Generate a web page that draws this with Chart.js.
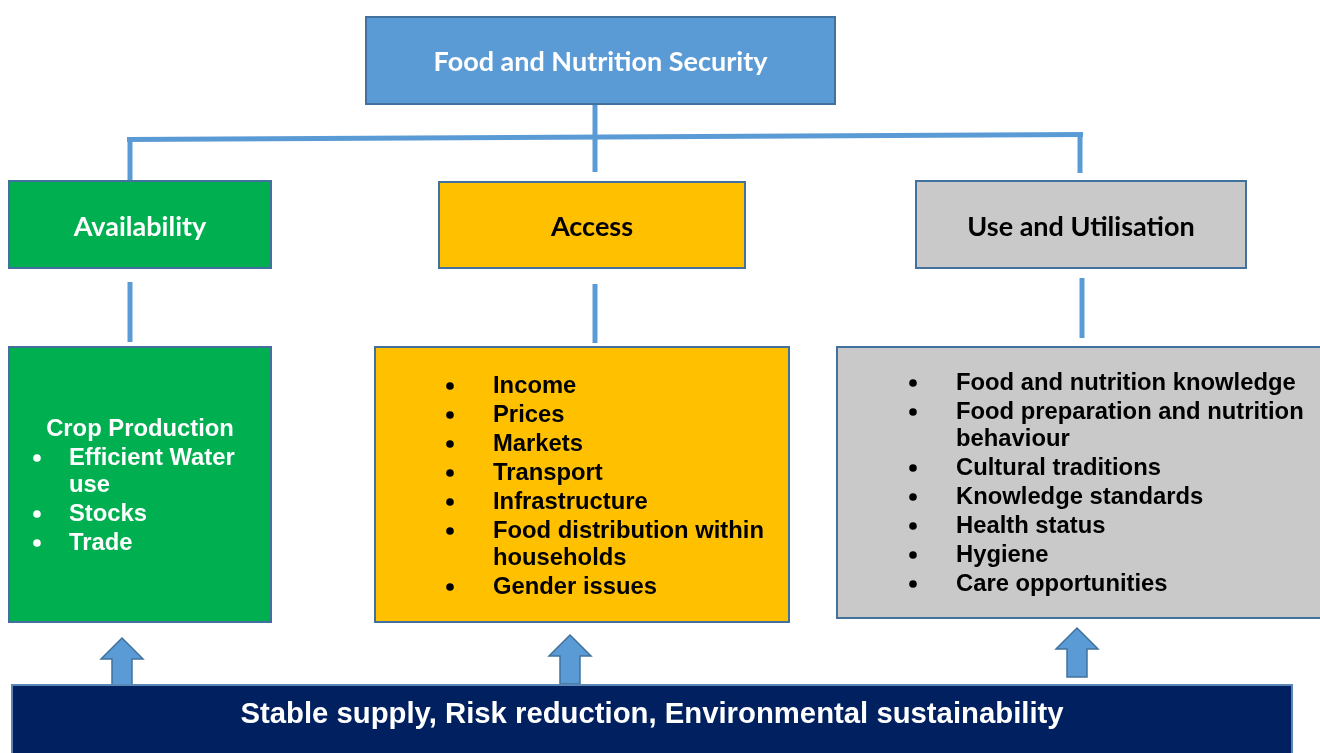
<!DOCTYPE html>
<html>
<head>
<meta charset="utf-8">
<script src="https://cdn.jsdelivr.net/npm/chart.js@4/dist/chart.umd.min.js"></script>
<style>
  html, body { margin: 0; padding: 0; background: #ffffff; }
  #quadro { width: 1320px; height: 753px; }
</style>
</head>
<body>
<div id="quadro"><canvas id="graficoSeguranca" width="1320" height="753"></canvas></div>
<script>
// Textos do diagrama (dados)
const titulo = 'Food and Nutrition Security';
const pilares = ['Availability', 'Access', 'Use and Utilisation'];
const subtituloDisponibilidade = 'Crop Production';
const itensDisponibilidade = ['Efficient Water use', 'Stocks', 'Trade'];
const itensAcesso = ['Income', 'Prices', 'Markets', 'Transport', 'Infrastructure',
    'Food distribution within households', 'Gender issues'];
const itensUtilizacao = ['Food and nutrition knowledge', 'Food preparation and nutrition behaviour',
    'Cultural traditions', 'Knowledge standards', 'Health status', 'Hygiene', 'Care opportunities'];
const base = 'Stable supply, Risk reduction, Environmental sustainability';

// Posições em coordenadas do eixo (x: 0-1320, y: 0-753 de cima para baixo)
const posTopo = { x0: 366, y0: 17, x1: 835, y1: 104 };
const posPilares = [
    { x0: 9, y0: 181, x1: 271, y1: 268 },
    { x0: 439, y0: 182, x1: 745, y1: 268 },
    { x0: 916, y0: 181, x1: 1246, y1: 268 }
];
const posDetalhes = [
    { x0: 9, y0: 347, x1: 271, y1: 622 },
    { x0: 375, y0: 347, x1: 789, y1: 622 },
    { x0: 837, y0: 347, x1: 1324, y1: 618 }
];
const posBase = { x0: 12, y0: 685, x1: 1292, y1: 760 };
const listas = [
    { bala: 37, texto: 69, y: 458, largura: 195 },
    { bala: 450, texto: 493, y: 386, largura: 290 },
    { bala: 913, texto: 956, y: 383, largura: 360 }
];
const ligacoes = [
    [[595, 104], [595, 172]],
    [[127, 139.5], [1083, 134.5]],
    [[130, 139], [130, 180]],
    [[1080, 134], [1080, 173]],
    [[130, 282], [130, 342]],
    [[595, 284], [595, 343]],
    [[1082, 278], [1082, 338]]
];
const setas = [
    { cx: 122, topo: 638, cabeca: 659, fundo: 686 },
    { cx: 570, topo: 635, cabeca: 656, fundo: 684 },
    { cx: 1077, topo: 628, cabeca: 649, fundo: 677 }
];

const coresPilares = ['#00B050', '#FFC000', '#C9C9C9'];
const coresTexto = ['#ffffff', '#000000', '#000000'];
const fonteTitulo = 'bold 27px Lato, "Open Sans", sans-serif';
const fonteLista = 'bold 23.8px "Liberation Sans", Arial, sans-serif';

// Plugin que desenha as caixas, linhas e setas usando as escalas do gráfico
const desenhoDiagrama = {
    id: 'desenhoDiagrama',
    afterDraw(chart) {
        const ctx = chart.ctx;
        const sx = chart.scales.x;
        const sy = chart.scales.y;
        const px = v => sx.getPixelForValue(v);
        const py = v => sy.getPixelForValue(v);

        function caixa(p, cor, borda) {
            ctx.save();
            ctx.fillStyle = cor;
            ctx.fillRect(px(p.x0), py(p.y0), px(p.x1) - px(p.x0), py(p.y1) - py(p.y0));
            ctx.strokeStyle = borda || '#41719C';
            ctx.lineWidth = 2;
            ctx.strokeRect(px(p.x0), py(p.y0), px(p.x1) - px(p.x0), py(p.y1) - py(p.y0));
            ctx.restore();
        }

        function texto(t, x, y, fonte, cor, alinhar) {
            ctx.save();
            ctx.font = fonte;
            ctx.fillStyle = cor;
            ctx.textAlign = alinhar || 'center';
            ctx.textBaseline = 'middle';
            ctx.fillText(t, px(x), py(y));
            ctx.restore();
        }

        // marcador redondo da lista
        function bala(x, y, cor) {
            ctx.save();
            ctx.fillStyle = cor;
            ctx.beginPath();
            ctx.arc(px(x), py(y), 3.8, 0, Math.PI * 2);
            ctx.fill();
            ctx.restore();
        }

        // quebra de linha simples por largura
        function quebrar(t, largura) {
            ctx.save();
            ctx.font = fonteLista;
            const palavras = t.split(' ');
            const linhas = [];
            let atual = '';
            palavras.forEach(p => {
                const teste = atual ? atual + ' ' + p : p;
                if (ctx.measureText(teste).width > largura && atual) {
                    linhas.push(atual);
                    atual = p;
                } else {
                    atual = teste;
                }
            });
            linhas.push(atual);
            ctx.restore();
            return linhas;
        }

        function lista(itens, cfg, cor) {
            let y = cfg.y;
            itens.forEach(item => {
                bala(cfg.bala, y, cor);
                const linhas = quebrar(item, cfg.largura);
                linhas.forEach((l, i) => {
                    if (i > 0) y += 27;
                    texto(l, cfg.texto, y, fonteLista, cor, 'left');
                });
                y += 29;
            });
        }

        // linhas de ligação
        ctx.save();
        ctx.strokeStyle = '#5B9BD5';
        ctx.lineWidth = 5;
        ctx.lineCap = 'butt';
        ligacoes.forEach(l => {
            ctx.beginPath();
            ctx.moveTo(px(l[0][0]), py(l[0][1]));
            ctx.lineTo(px(l[1][0]), py(l[1][1]));
            ctx.stroke();
        });
        ctx.restore();

        // caixa do topo
        caixa(posTopo, '#5B9BD5');
        texto(titulo, (posTopo.x0 + posTopo.x1) / 2, 62, fonteTitulo, '#ffffff');

        // pilares
        pilares.forEach((nome, i) => {
            const p = posPilares[i];
            caixa(p, coresPilares[i]);
            texto(nome, (p.x0 + p.x1) / 2, 227, fonteTitulo, coresTexto[i]);
        });

        // caixas de detalhe
        posDetalhes.forEach((p, i) => caixa(p, coresPilares[i]));
        texto(subtituloDisponibilidade, 140, 429, fonteLista, '#ffffff');
        lista(itensDisponibilidade, listas[0], '#ffffff');
        lista(itensAcesso, listas[1], '#000000');
        lista(itensUtilizacao, listas[2], '#000000');

        // setas para cima
        ctx.save();
        ctx.fillStyle = '#5B9BD5';
        ctx.strokeStyle = '#41719C';
        ctx.lineWidth = 1.5;
        setas.forEach(s => {
            ctx.beginPath();
            ctx.moveTo(px(s.cx), py(s.topo));
            ctx.lineTo(px(s.cx + 21), py(s.cabeca));
            ctx.lineTo(px(s.cx + 10), py(s.cabeca));
            ctx.lineTo(px(s.cx + 10), py(s.fundo));
            ctx.lineTo(px(s.cx - 10), py(s.fundo));
            ctx.lineTo(px(s.cx - 10), py(s.cabeca));
            ctx.lineTo(px(s.cx - 21), py(s.cabeca));
            ctx.closePath();
            ctx.fill();
            ctx.stroke();
        });
        ctx.restore();

        // faixa da base
        caixa(posBase, '#002060', '#5B86B8');
        texto(base, 652, 715, 'bold 29.3px "Liberation Sans", Arial, sans-serif', '#ffffff');
    }
};

document.addEventListener('DOMContentLoaded', function () {
    const ctx = document.getElementById('graficoSeguranca').getContext('2d');
    new Chart(ctx, {
        type: 'scatter',
        data: { datasets: [] },
        options: {
            responsive: false,
            animation: false,
            devicePixelRatio: 1,
            layout: { padding: 0 },
            plugins: { legend: { display: false }, tooltip: { enabled: false } },
            scales: {
                x: { type: 'linear', min: 0, max: 1320, display: false },
                y: { type: 'linear', min: 0, max: 753, reverse: true, display: false }
            }
        },
        plugins: [desenhoDiagrama]
    });
});
</script>
</body>
</html>
